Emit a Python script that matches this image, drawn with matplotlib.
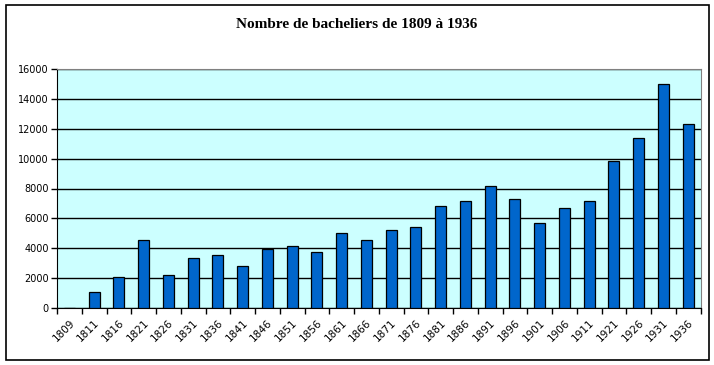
from matplotlib import pyplot as plt
from matplotlib.patches import Rectangle
import numpy as np

# bacheliers par annee
years = ['1809', '1811', '1816', '1821', '1826', '1831', '1836', '1841', '1846',
         '1851', '1856', '1861', '1866', '1871', '1876', '1881', '1886', '1891',
         '1896', '1901', '1906', '1911', '1921', '1926', '1931', '1936']
bacheliers = [0, 1030, 2040, 4520, 2170, 3310, 3510, 2780, 3960,
              4120, 3710, 4990, 4520, 5190, 5390, 6800, 7140, 8140,
              7270, 5660, 6670, 7140, 9820, 11370, 14990, 12310]
yticks = [0, 2000, 4000, 6000, 8000, 10000, 12000, 14000, 16000]

fig = plt.figure(figsize=(7.14, 3.65), dpi=100)
ax = fig.add_axes([57 / 714, 1 - 307.7 / 365, 643.5 / 714, 238.4 / 365])

x = np.arange(len(years))
ax.set_facecolor('#CCFFFF')
ax.bar(x, bacheliers, width=0.45, color='#0066CC', edgecolor='black', linewidth=0.9, zorder=3)

ax.set_ylim(0, 16000)
ax.set_xlim(-0.5, len(years) - 0.5)
ax.set_yticks(yticks)
ax.set_yticklabels([str(v) for v in yticks], fontsize=7)
ax.yaxis.grid(True, color='black', linewidth=1, zorder=1)
ax.set_axisbelow(True)

# ticks between categories, labels at centres
ax.set_xticks(x)
ax.set_xticklabels(years, rotation=45, ha='right', rotation_mode='anchor', fontsize=7.5)
ax.tick_params(axis='x', which='major', length=0, pad=7)
ax.set_xticks(np.arange(len(years) + 1) - 0.5, minor=True)
ax.tick_params(axis='x', which='minor', length=4, width=1, direction='out')
ax.tick_params(axis='y', length=4, width=1, direction='out', pad=2)

for s in ['top', 'right']:
    ax.spines[s].set_color('#808080')
for s in ['left', 'bottom']:
    ax.spines[s].set_color('black')

fig.text(0.5, 1 - 25 / 365, 'Nombre de bacheliers de 1809 à 1936', ha='center', va='center',
         fontsize=11, fontweight='bold', family='Liberation Serif')

fig.patches.append(Rectangle((6 / 714, 5 / 365), 703 / 714, 355 / 365, transform=fig.transFigure,
                             fill=False, edgecolor='black', linewidth=1.2))

fig.savefig('out.png', dpi=100)
